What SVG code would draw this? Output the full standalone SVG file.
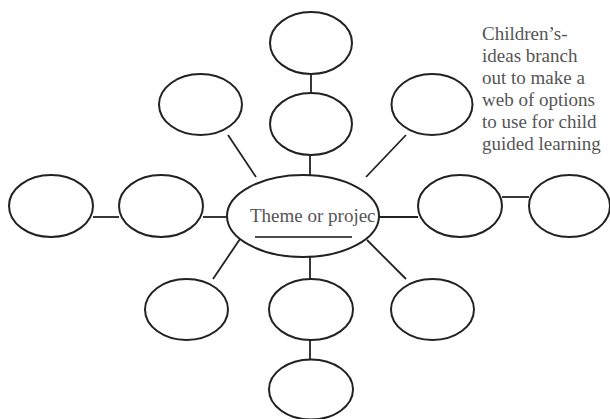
<svg xmlns="http://www.w3.org/2000/svg" width="610" height="419" viewBox="0 0 610 419">
<style>
.n{fill:#fff;stroke:#222;stroke-width:2}
.c line{stroke:#222;stroke-width:1.8}
.t{font-family:"Liberation Serif","Times New Roman",serif;fill:#555}
</style>
<rect width="610" height="419" fill="#fff"/>
<g class="c" id="connectors">
<line x1="311" y1="74" x2="311" y2="93"/>
<line x1="310" y1="155" x2="310" y2="175"/>
<line x1="228" y1="135" x2="256" y2="177"/>
<line x1="406" y1="135" x2="366" y2="177"/>
<line x1="93" y1="217" x2="119" y2="217"/>
<line x1="203" y1="217" x2="228" y2="217"/>
<line x1="379" y1="217" x2="418" y2="217"/>
<line x1="502" y1="197" x2="529" y2="197"/>
<line x1="310" y1="257" x2="310" y2="279"/>
<line x1="310" y1="340" x2="310" y2="360"/>
<line x1="240" y1="239" x2="213" y2="279"/>
<line x1="367" y1="240" x2="406" y2="279"/>
</g>
<g id="center">
<ellipse class="n" cx="303" cy="216" rx="76" ry="41"/>
<text class="t" x="250" y="222" font-size="19">Theme or projec</text>
<line x1="255" y1="237" x2="352" y2="237" stroke="#111" stroke-width="1.6"/>
</g>
<g id="top"><ellipse class="n" cx="311" cy="43" rx="41" ry="31"/></g>
<g id="upper"><ellipse class="n" cx="311" cy="124" rx="41" ry="31"/></g>
<g id="upper-left"><ellipse class="n" cx="200.5" cy="104.5" rx="41.5" ry="30.5"/></g>
<g id="upper-right"><ellipse class="n" cx="432" cy="104.5" rx="40.5" ry="30.5"/></g>
<g id="far-left"><ellipse class="n" cx="51" cy="206" rx="42" ry="31"/></g>
<g id="left"><ellipse class="n" cx="161" cy="206" rx="42" ry="31"/></g>
<g id="right"><ellipse class="n" cx="460" cy="206" rx="42" ry="31"/></g>
<g id="far-right"><ellipse class="n" cx="569.5" cy="206" rx="40.5" ry="31"/></g>
<g id="lower-left"><ellipse class="n" cx="186.5" cy="309.5" rx="41.5" ry="30.5"/></g>
<g id="lower"><ellipse class="n" cx="311" cy="309.5" rx="42" ry="30.5"/></g>
<g id="lower-right"><ellipse class="n" cx="432.5" cy="309.5" rx="41.5" ry="30.5"/></g>
<g id="bottom"><ellipse class="n" cx="311" cy="389.5" rx="42" ry="30"/></g>
<g id="note" class="t" font-size="19">
<text x="482" y="40">Children’s-</text>
<text x="482" y="62">ideas branch</text>
<text x="482" y="84">out to make a</text>
<text x="482" y="106">web of options</text>
<text x="482" y="128">to use for child</text>
<text x="482" y="150">guided learning</text>
</g>
</svg>
